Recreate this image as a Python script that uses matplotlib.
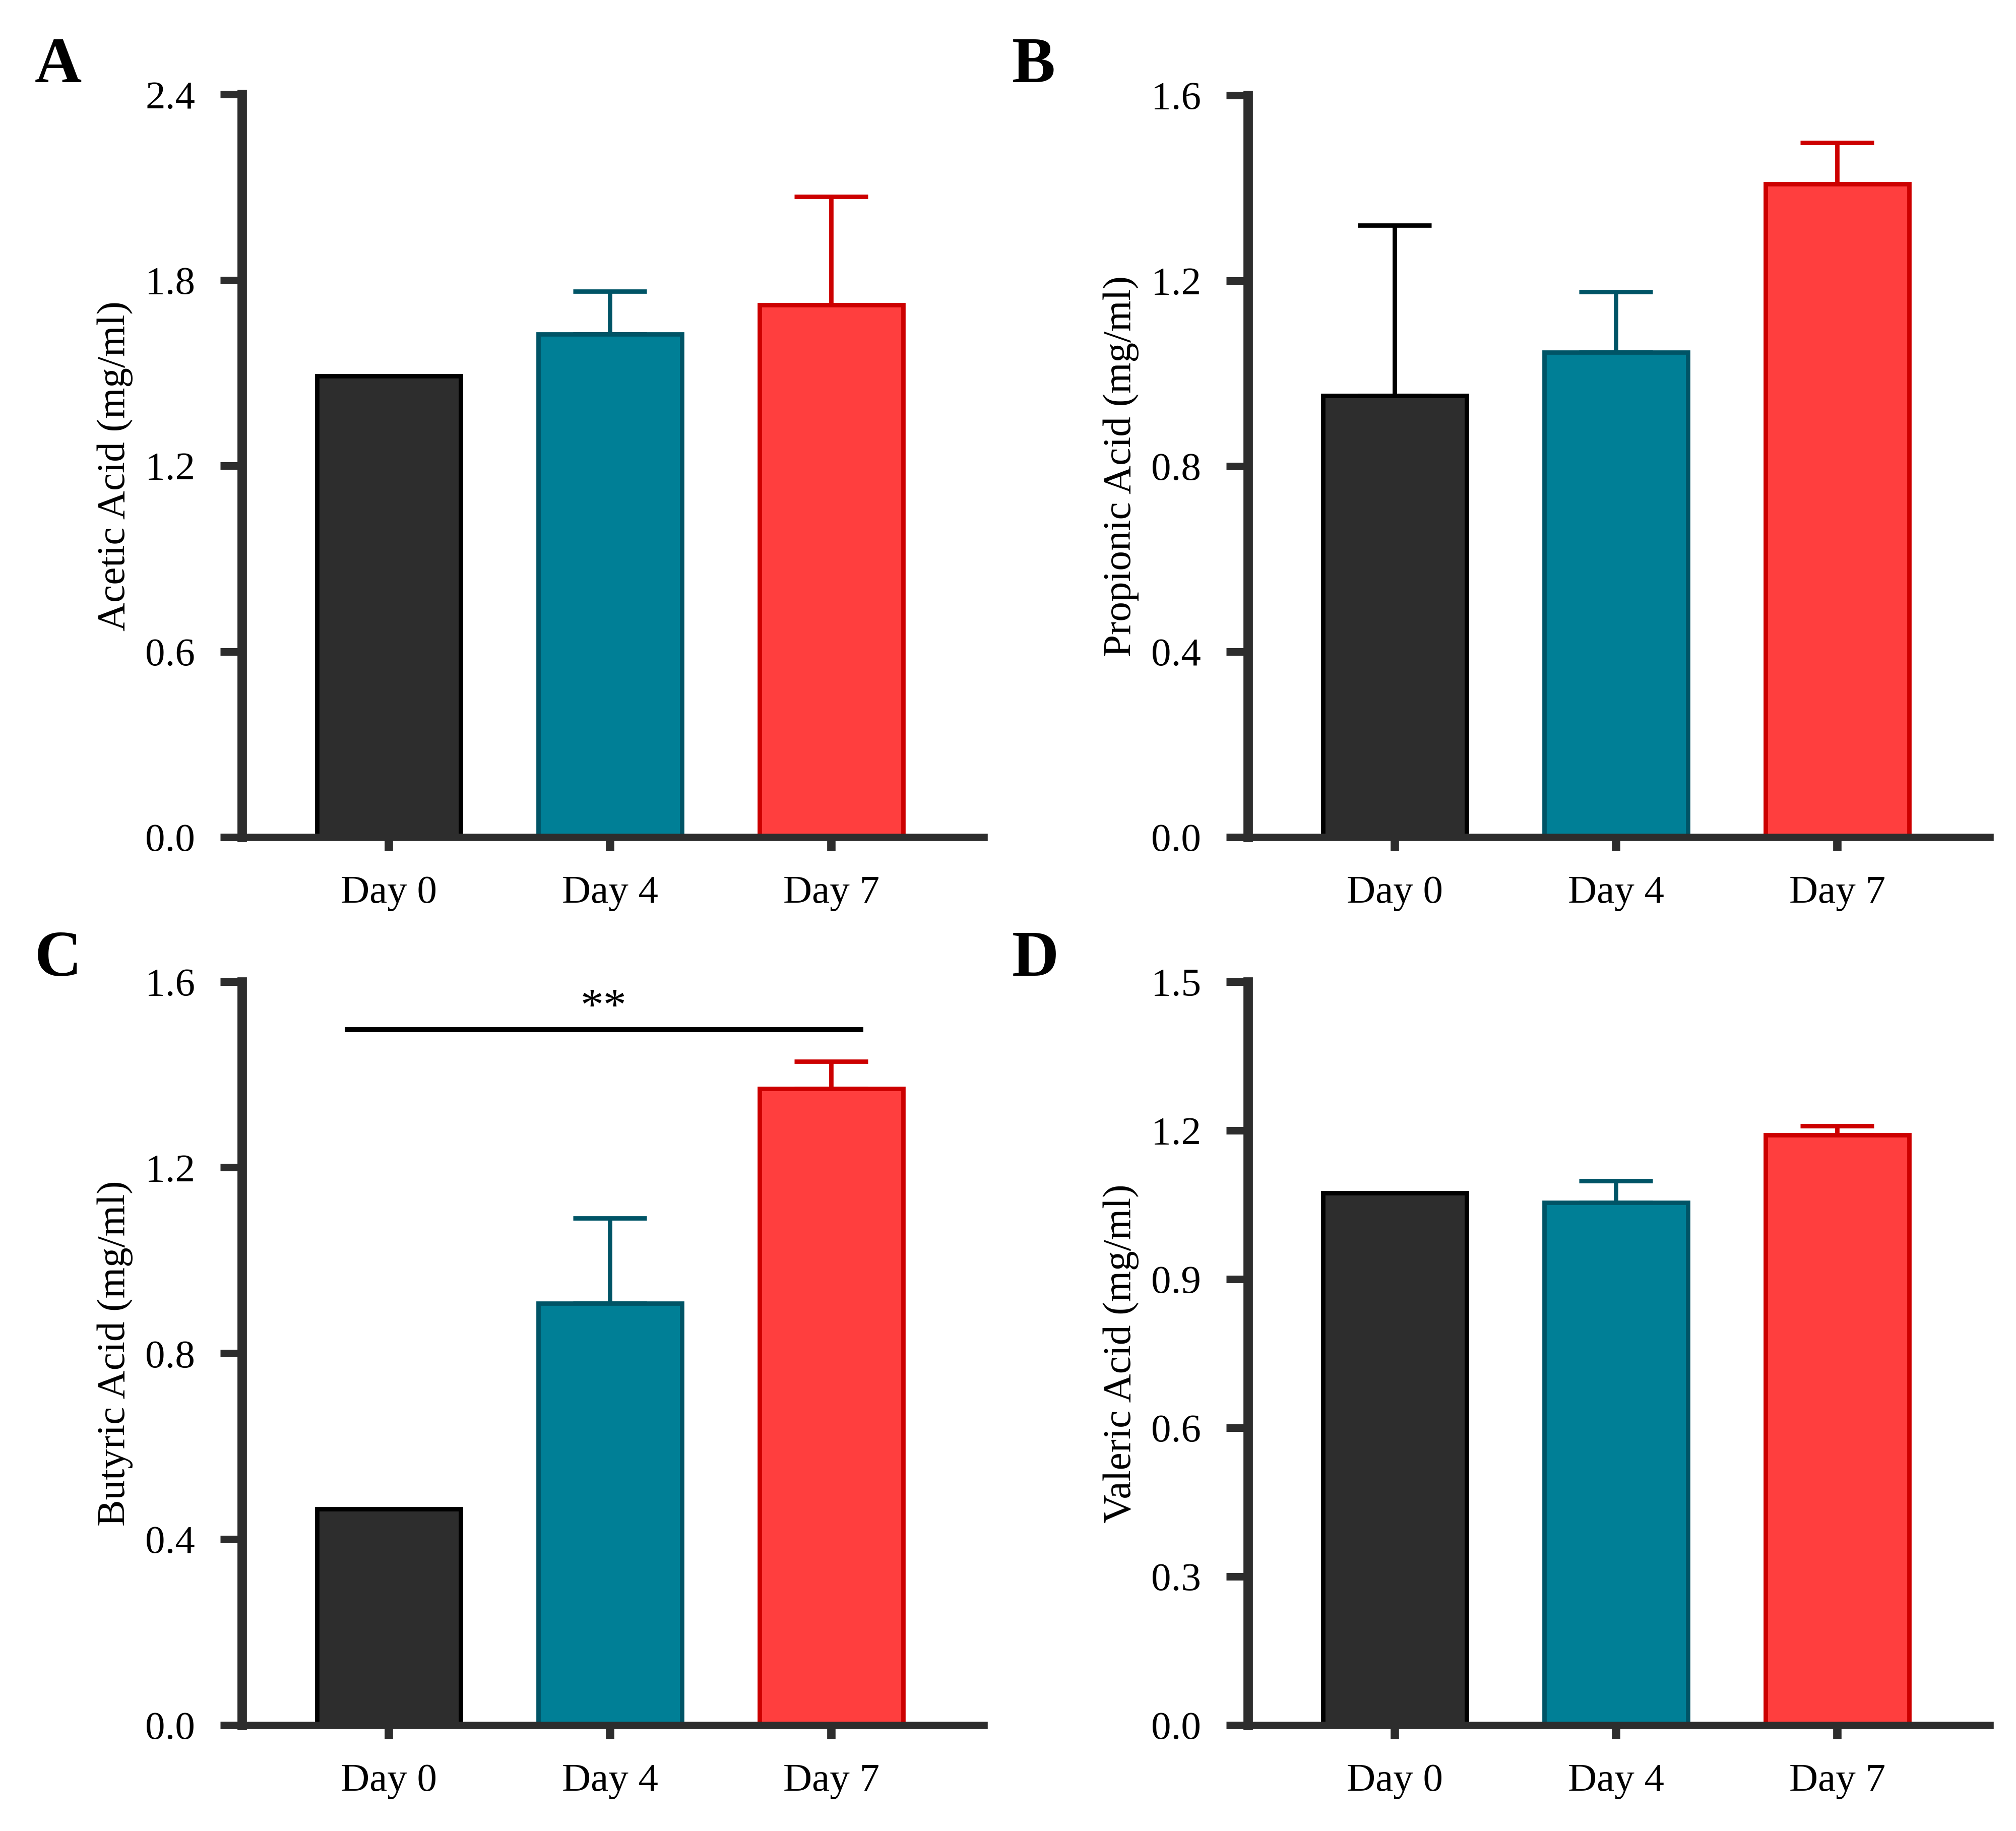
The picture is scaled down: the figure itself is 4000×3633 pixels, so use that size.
import matplotlib
matplotlib.use("Agg")
from matplotlib import pyplot as plt

plt.rcParams['font.family'] = ['Liberation Serif', 'DejaVu Serif']

#categories and colours of the three sampling days
days = ["Day 0", "Day 4", "Day 7"]
fill_colors = ["#2d2d2d", "#007f96", "#ff3e3e"]
edge_colors = ["#000000", "#005466", "#cc0000"]

#means and upper error (SD) per acid
acetic = [1.49, 1.625, 1.72]
acetic_err = [0.0, 0.139, 0.35]
propionic = [0.952, 1.046, 1.409]
propionic_err = [0.368, 0.13, 0.089]
butyric = [0.465, 0.908, 1.37]
butyric_err = [0.0, 0.183, 0.058]
valeric = [1.074, 1.054, 1.191]
valeric_err = [0.0, 0.044, 0.018]

acetic_ticks = [0.0, 0.6, 1.2, 1.8, 2.4]
propionic_ticks = [0.0, 0.4, 0.8, 1.2, 1.6]
butyric_ticks = [0.0, 0.4, 0.8, 1.2, 1.6]
valeric_ticks = [0.0, 0.3, 0.6, 0.9, 1.2, 1.5]

#significance bar in panel C: Day 0 vs Day 7
sig_level = 1.497
sig_text = "**"

axis_color = "#2d2d2d"
font_size = 19


def draw_panel(ax, values, errors, ticks, ylabel):
    xs = list(range(len(days)))
    for i in xs:
        if errors[i] > 0:
            ax.errorbar(i, values[i], yerr=[[0], [errors[i]]], fmt="none",
                        ecolor=edge_colors[i], elinewidth=2.1, capsize=17.5,
                        capthick=2.1, zorder=2)
    ax.bar(xs, values, width=0.65, color=fill_colors, edgecolor=edge_colors,
           linewidth=2.1, zorder=3)

    ax.set_xlim(-0.664, 2.69)
    ax.set_ylim(ticks[0], ticks[-1])
    ax.set_yticks(ticks)
    ax.set_yticklabels(["%.1f" % t for t in ticks])
    ax.set_xticks(xs)
    ax.set_xticklabels(days)

    ax.spines["top"].set_visible(False)
    ax.spines["right"].set_visible(False)
    ax.spines["left"].set_linewidth(4.5)
    ax.spines["bottom"].set_linewidth(3.5)
    ax.spines["left"].set_color(axis_color)
    ax.spines["bottom"].set_color(axis_color)
    ax.spines["left"].set_zorder(4)
    ax.spines["bottom"].set_zorder(4)

    ax.tick_params(axis="y", direction="out", length=10.3, width=3.6,
                   color=axis_color, pad=12, labelsize=font_size)
    ax.tick_params(axis="x", direction="out", length=6.5, width=4.0,
                   color=axis_color, pad=11.5, labelsize=font_size)

    ax.set_ylabel(ylabel, fontsize=font_size)
    ax.yaxis.set_label_coords(-0.147, 0.5)


fig = plt.figure(figsize=(4000 / 300, 3633 / 300), dpi=300)

axA = fig.add_axes([0.12, 0.5428, 0.368, 0.4056])
axB = fig.add_axes([0.619, 0.5428, 0.368, 0.4052])
axC = fig.add_axes([0.12, 0.0578, 0.368, 0.4061])
axD = fig.add_axes([0.619, 0.0578, 0.368, 0.4061])

draw_panel(axA, acetic, acetic_err, acetic_ticks, "Acetic Acid (mg/ml)")
draw_panel(axB, propionic, propionic_err, propionic_ticks, "Propionic Acid (mg/ml)")
draw_panel(axC, butyric, butyric_err, butyric_ticks, "Butyric Acid (mg/ml)")
draw_panel(axD, valeric, valeric_err, valeric_ticks, "Valeric Acid (mg/ml)")

#significance line for butyric acid
axC.plot([-0.2, 2.145], [sig_level, sig_level], color="black", linewidth=2.4,
         solid_capstyle="butt", zorder=5)
axC.text(0.97, sig_level, sig_text, ha="center", va="bottom",
         fontsize=font_size + 3)

#panel letters
fig.text(0.0173, 0.955, "A", fontsize=31, fontweight="bold")
fig.text(0.502, 0.955, "B", fontsize=31, fontweight="bold")
fig.text(0.0173, 0.467, "C", fontsize=31, fontweight="bold")
fig.text(0.502, 0.467, "D", fontsize=31, fontweight="bold")

fig.savefig("out.png", dpi=300, facecolor="white")
